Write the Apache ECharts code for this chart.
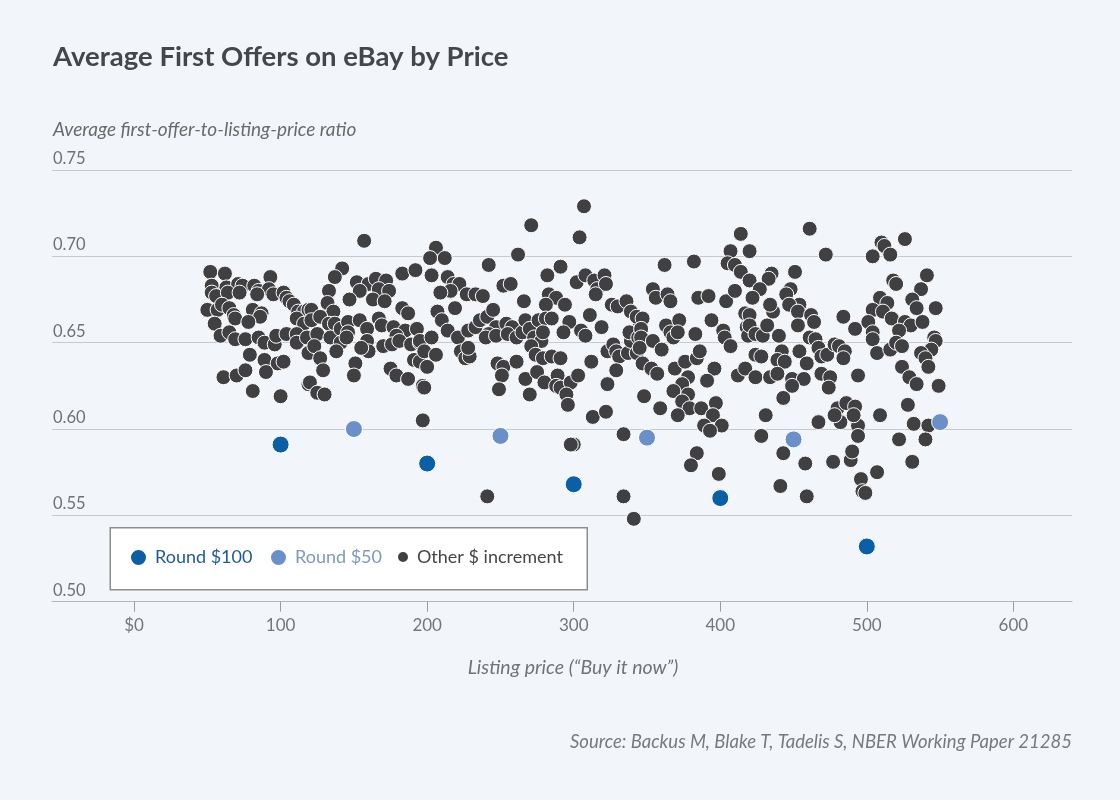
<!DOCTYPE html>
<html>
<head>
<meta charset="utf-8">
<script src="https://cdn.jsdelivr.net/npm/echarts@6/dist/echarts.min.js"></script>
<style>
html,body{margin:0;padding:0;background:#f2f6fa;}
#chart{width:1120px;height:800px;}
</style>
</head>
<body>
<div id="chart"></div>
<script>
// ---- Data ----
const xTickValues = [0, 100, 200, 300, 400, 500, 600];
const yTickValues = [0.50, 0.55, 0.60, 0.65, 0.70, 0.75];

const round100Prices = [100, 200, 300, 400, 500];
const round100Ratios = [0.591, 0.580, 0.568, 0.560, 0.532];

const round50Prices = [150, 250, 350, 450, 550];
const round50Ratios = [0.600, 0.596, 0.595, 0.594, 0.604];

// Other $ increment: [listing price, ratio]
const otherPoints = [
[52,0.691],[62,0.690],[93,0.688],[53,0.683],[63,0.682],[71,0.684],[74,0.683],[82,0.683],[85,0.680],[92,0.681],
[95,0.678],[102,0.679],[53,0.679],[56,0.677],[64,0.679],[72,0.679],[84,0.678],[104,0.676],[106,0.674],[109,0.672],
[50,0.669],[57,0.669],[60,0.672],[65,0.670],[68,0.666],[81,0.669],[87,0.667],[86,0.665],[55,0.661],[69,0.664],
[78,0.662],[112,0.668],[116,0.668],[119,0.669],[111,0.664],[116,0.661],[59,0.654],[65,0.656],[69,0.652],[76,0.652],
[85,0.653],[89,0.650],[96,0.649],[97,0.654],[104,0.655],[111,0.655],[111,0.650],[118,0.653],[119,0.644],[79,0.643],
[89,0.640],[98,0.638],[102,0.639],[90,0.633],[61,0.630],[70,0.631],[76,0.634],[81,0.622],[100,0.619],[119,0.626],
[157,0.709],[142,0.693],[137,0.688],[152,0.685],[160,0.684],[165,0.687],[172,0.686],[154,0.680],[167,0.681],[174,0.680],
[147,0.675],[163,0.675],[171,0.674],[183,0.690],[192,0.692],[133,0.680],[132,0.673],[136,0.668],[121,0.669],[121,0.663],
[127,0.665],[125,0.655],[123,0.648],[133,0.661],[137,0.661],[134,0.653],[141,0.658],[146,0.662],[154,0.663],[146,0.656],
[141,0.650],[138,0.645],[145,0.653],[159,0.658],[167,0.664],[169,0.660],[159,0.651],[160,0.645],[155,0.647],[170,0.648],
[183,0.670],[187,0.667],[177,0.659],[185,0.657],[193,0.658],[179,0.654],[176,0.649],[181,0.651],[189,0.649],[195,0.650],
[191,0.640],[195,0.639],[175,0.635],[179,0.631],[187,0.629],[197,0.625],[151,0.638],[150,0.631],[127,0.641],[129,0.634],
[120,0.627],[125,0.621],[130,0.620],[197,0.605],
[271,0.718],[206,0.705],[202,0.699],[212,0.699],[262,0.701],[242,0.695],[203,0.689],[214,0.688],[218,0.684],[222,0.684],
[216,0.680],[209,0.679],[219,0.670],[227,0.678],[233,0.678],[238,0.677],[252,0.683],[257,0.684],[266,0.674],[207,0.668],
[210,0.663],[214,0.657],[221,0.653],[228,0.657],[233,0.659],[236,0.663],[241,0.665],[245,0.669],[247,0.659],[242,0.655],
[240,0.653],[247,0.654],[254,0.661],[258,0.659],[255,0.655],[261,0.653],[265,0.656],[267,0.663],[270,0.658],[223,0.645],
[226,0.641],[229,0.642],[228,0.647],[195,0.651],[198,0.645],[200,0.636],[203,0.653],[206,0.643],[198,0.624],[248,0.638],
[252,0.636],[251,0.631],[261,0.639],[267,0.629],[249,0.623],[270,0.620],[241,0.561],
[307,0.729],[304,0.711],[282,0.689],[291,0.694],[302,0.685],[308,0.689],[314,0.686],[321,0.689],[316,0.681],[322,0.684],
[315,0.678],[283,0.678],[288,0.676],[281,0.672],[294,0.672],[311,0.666],[297,0.662],[305,0.657],[308,0.654],[319,0.659],
[293,0.656],[276,0.663],[281,0.664],[285,0.664],[273,0.653],[278,0.651],[279,0.656],[271,0.648],[274,0.643],[279,0.641],
[285,0.642],[291,0.641],[275,0.633],[280,0.627],[289,0.631],[288,0.625],[291,0.624],[298,0.627],[303,0.631],[295,0.620],
[296,0.614],[312,0.639],[323,0.645],[327,0.649],[329,0.645],[331,0.642],[337,0.644],[339,0.651],[338,0.656],[344,0.653],
[343,0.644],[345,0.662],[326,0.672],[330,0.671],[336,0.674],[339,0.668],[343,0.665],[329,0.634],[323,0.626],[313,0.607],
[322,0.610],[334,0.597],[300,0.591],[298,0.591],[334,0.561],[341,0.548],
[414,0.713],[362,0.695],[382,0.697],[407,0.703],[420,0.703],[405,0.696],[410,0.695],[414,0.691],[420,0.686],[354,0.681],
[356,0.676],[364,0.678],[366,0.674],[385,0.676],[392,0.677],[404,0.674],[410,0.680],[347,0.664],[346,0.658],[346,0.653],
[345,0.647],[354,0.651],[360,0.646],[363,0.660],[366,0.656],[368,0.653],[372,0.663],[371,0.656],[383,0.655],[394,0.663],
[402,0.657],[403,0.653],[407,0.648],[417,0.667],[418,0.659],[419,0.654],[347,0.638],[353,0.635],[357,0.632],[369,0.635],
[376,0.639],[384,0.641],[386,0.645],[396,0.635],[391,0.628],[412,0.631],[417,0.635],[378,0.630],[374,0.626],[378,0.620],
[368,0.622],[374,0.616],[379,0.612],[387,0.612],[371,0.608],[359,0.612],[348,0.619],[397,0.615],[395,0.608],[401,0.602],
[389,0.602],[393,0.599],[384,0.586],[380,0.579],[399,0.574],
[461,0.716],[472,0.701],[435,0.690],[433,0.687],[427,0.681],[422,0.676],[451,0.691],[448,0.681],[445,0.678],[454,0.672],
[447,0.672],[453,0.668],[462,0.666],[464,0.662],[453,0.660],[436,0.668],[434,0.672],[484,0.665],[492,0.658],[420,0.666],
[420,0.660],[424,0.655],[429,0.654],[432,0.660],[440,0.654],[461,0.653],[465,0.652],[467,0.647],[469,0.642],[473,0.643],
[478,0.649],[481,0.648],[485,0.645],[484,0.641],[424,0.643],[428,0.642],[442,0.645],[439,0.640],[444,0.639],[454,0.645],
[459,0.638],[424,0.630],[434,0.630],[439,0.632],[449,0.629],[457,0.629],[449,0.625],[443,0.618],[469,0.632],[475,0.630],
[474,0.624],[494,0.631],[431,0.608],[467,0.604],[480,0.612],[486,0.615],[492,0.613],[482,0.604],[478,0.608],[494,0.602],
[491,0.608],[428,0.596],[443,0.586],[458,0.580],[477,0.581],[489,0.582],[490,0.587],[494,0.596],[441,0.567],[459,0.561],
[496,0.571],[497,0.564],[499,0.563],
[526,0.710],[510,0.708],[512,0.706],[516,0.701],[504,0.700],[541,0.689],[537,0.681],[518,0.686],[520,0.684],[509,0.676],
[514,0.673],[504,0.669],[511,0.668],[531,0.675],[534,0.670],[547,0.670],[517,0.664],[501,0.662],[526,0.662],[530,0.660],
[538,0.662],[522,0.657],[504,0.656],[504,0.652],[507,0.644],[516,0.646],[520,0.650],[524,0.648],[546,0.653],[547,0.651],
[544,0.646],[537,0.644],[540,0.641],[542,0.636],[524,0.636],[529,0.630],[534,0.626],[549,0.625],[528,0.614],[509,0.608],
[532,0.603],[542,0.602],[522,0.594],[540,0.594],[531,0.581],[507,0.575]
];

const titleText = 'Average First Offers on eBay by Price';
const yAxisTitle = 'Average first-offer-to-listing-price ratio';
const xAxisTitle = 'Listing price (\u201cBuy it now\u201d)';
const sourceText = 'Source: Backus M, Blake T, Tadelis S, NBER Working Paper 21285';
const seriesNames = ['Round $100', 'Round $50', 'Other $ increment'];

// ---- Chart ----
const FONT = 'Lato';
const C100 = '#0b5fa5', C50 = '#6b8fc9', COTHER = '#404043';
const chart = echarts.init(document.getElementById('chart'), null, {renderer: 'canvas'});

function zip(a, b) { return a.map((v, i) => [v, b[i]]); }

const legendBase = {
  orient: 'horizontal', top: 548, padding: 0, selectedMode: false,
  icon: 'circle', textStyle: {fontFamily: FONT, fontSize: 18, padding: [0, 0, 0, 3]}
};

chart.setOption({
  backgroundColor: '#f2f6fa',
  animation: false,
  textStyle: {fontFamily: FONT},
  title: [
    {text: titleText, left: 53, top: 43.5, padding: 0,
      textStyle: {fontFamily: FONT, fontSize: 27.5, fontWeight: 'bold', color: '#454649'}},
    {text: yAxisTitle, left: 53, top: 120.5, padding: 0,
      textStyle: {fontFamily: FONT, fontSize: 19, fontStyle: 'italic', fontWeight: 'normal', color: '#6a6a6a'}},
    {text: sourceText, right: 48, top: 733, padding: 0,
      textStyle: {fontFamily: FONT, fontSize: 18.5, fontStyle: 'italic', fontWeight: 'normal', color: '#77797c'}}
  ],
  grid: {left: 52, right: 48, top: 170, bottom: 198.3, containLabel: false},
  xAxis: {
    type: 'value', min: -56, max: 640,
    axisLine: {show: true, lineStyle: {color: '#b4b6b9', width: 1}},
    axisTick: {show: true, length: 10, customValues: xTickValues, lineStyle: {color: '#9a9c9f'}},
    axisLabel: {customValues: xTickValues, margin: 15, fontFamily: FONT, fontSize: 17, color: '#74767a',
      formatter: v => (v === 0 ? '$0' : String(v))},
    splitLine: {show: false}
  },
  yAxis: {
    type: 'value', min: 0.5, max: 0.75, interval: 0.05,
    axisLine: {show: false}, axisTick: {show: false},
    axisLabel: {inside: true, margin: 1, verticalAlign: 'bottom', padding: [0, 0, 3, 0],
      fontFamily: FONT, fontSize: 16.5, color: '#6f7175', formatter: v => v.toFixed(2)},
    splitLine: {show: true, lineStyle: {color: '#c7cacd', width: 1}}
  },
  legend: [
    Object.assign({}, legendBase, {left: 129, itemWidth: 17, itemHeight: 17,
      data: [{name: seriesNames[0], textStyle: {color: '#1d5c98'}}]}),
    Object.assign({}, legendBase, {left: 269, itemWidth: 17, itemHeight: 17,
      data: [{name: seriesNames[1], textStyle: {color: '#7f98c0'}}]}),
    Object.assign({}, legendBase, {left: 396, itemWidth: 12, itemHeight: 12,
      data: [{name: seriesNames[2], textStyle: {color: '#444549'}}]})
  ],
  graphic: [
    {type: 'rect', left: 109.5, top: 527, z: -1, silent: true,
      shape: {width: 477, height: 62}, style: {fill: '#ffffff', stroke: '#8b8d90', lineWidth: 1.5}},
    {type: 'text', silent: true, style: {x: 573, y: 668, text: xAxisTitle, textAlign: 'center', textVerticalAlign: 'middle',
      font: 'italic 19.5px ' + FONT, fill: '#707276'}}
  ],
  series: [
    {name: seriesNames[2], type: 'scatter', symbolSize: 15, z: 2, data: otherPoints,
      itemStyle: {color: COTHER, borderColor: '#ffffff', borderWidth: 1, opacity: 1}},
    {name: seriesNames[1], type: 'scatter', symbolSize: 17, z: 3, data: zip(round50Prices, round50Ratios),
      itemStyle: {color: C50, borderColor: '#ffffff', borderWidth: 1, opacity: 1}},
    {name: seriesNames[0], type: 'scatter', symbolSize: 17, z: 4, data: zip(round100Prices, round100Ratios),
      itemStyle: {color: C100, borderColor: '#ffffff', borderWidth: 1, opacity: 1}}
  ]
});
</script>
</body>
</html>
